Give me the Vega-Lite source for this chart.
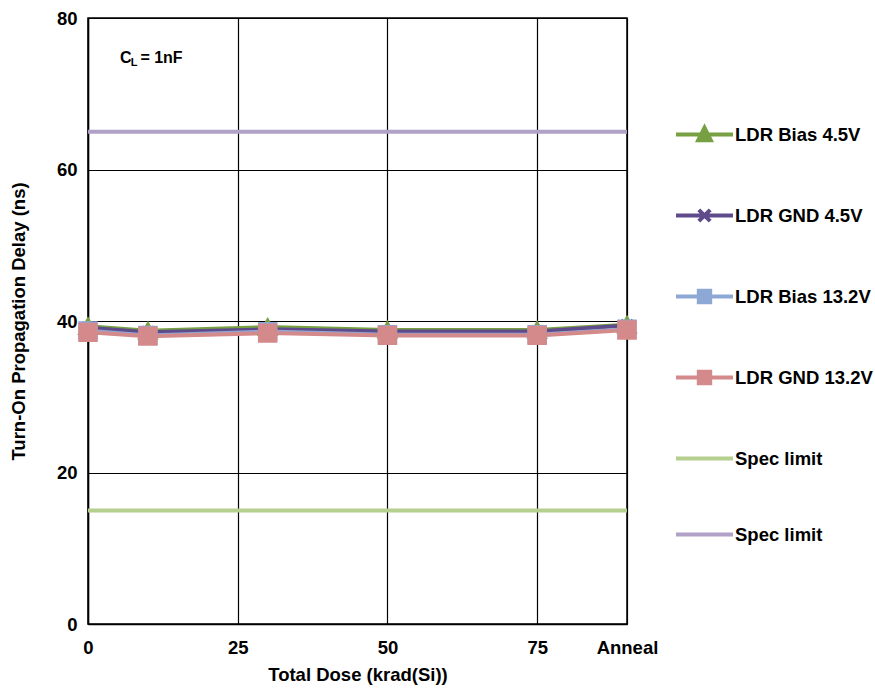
{
  "$schema": "https://vega.github.io/schema/vega-lite/v6.json",
  "width": 539,
  "height": 606,
  "autosize": {"type": "none"},
  "padding": {"left": 88, "top": 18, "right": 248, "bottom": 64},
  "background": "white",
  "config": {
    "font": "Liberation Sans",
    "view": {"stroke": "black", "strokeWidth": 1.5},
    "axis": {
      "labelFont": "Liberation Sans",
      "labelFontWeight": "bold",
      "labelFontSize": 18.5,
      "labelColor": "black",
      "titleFont": "Liberation Sans",
      "titleFontWeight": "bold",
      "titleFontSize": 18.5,
      "titleColor": "black",
      "grid": true,
      "gridColor": "black",
      "gridWidth": 1.2,
      "gridOpacity": 1,
      "domainColor": "black",
      "domainWidth": 1.5,
      "ticks": false
    }
  },
  "datasets": {
    "series": [
      {"series": "LDR Bias 4.5V", "dose": 0, "delay": 39.3},
      {"series": "LDR Bias 4.5V", "dose": 10, "delay": 38.7},
      {"series": "LDR Bias 4.5V", "dose": 30, "delay": 39.2},
      {"series": "LDR Bias 4.5V", "dose": 50, "delay": 38.8},
      {"series": "LDR Bias 4.5V", "dose": 75, "delay": 38.8},
      {"series": "LDR Bias 4.5V", "dose": 90, "delay": 39.5},
      {"series": "LDR GND 4.5V", "dose": 0, "delay": 39.1},
      {"series": "LDR GND 4.5V", "dose": 10, "delay": 38.5},
      {"series": "LDR GND 4.5V", "dose": 30, "delay": 38.9},
      {"series": "LDR GND 4.5V", "dose": 50, "delay": 38.6},
      {"series": "LDR GND 4.5V", "dose": 75, "delay": 38.6},
      {"series": "LDR GND 4.5V", "dose": 90, "delay": 39.4},
      {"series": "LDR Bias 13.2V", "dose": 0, "delay": 38.7},
      {"series": "LDR Bias 13.2V", "dose": 10, "delay": 38.1},
      {"series": "LDR Bias 13.2V", "dose": 30, "delay": 38.6},
      {"series": "LDR Bias 13.2V", "dose": 50, "delay": 38.2},
      {"series": "LDR Bias 13.2V", "dose": 75, "delay": 38.2},
      {"series": "LDR Bias 13.2V", "dose": 90, "delay": 38.9},
      {"series": "LDR GND 13.2V", "dose": 0, "delay": 38.5},
      {"series": "LDR GND 13.2V", "dose": 10, "delay": 38.0},
      {"series": "LDR GND 13.2V", "dose": 30, "delay": 38.4},
      {"series": "LDR GND 13.2V", "dose": 50, "delay": 38.1},
      {"series": "LDR GND 13.2V", "dose": 75, "delay": 38.1},
      {"series": "LDR GND 13.2V", "dose": 90, "delay": 38.8}
    ],
    "limits": [
      {"series": "Spec limit min", "delay": 15},
      {"series": "Spec limit max", "delay": 65}
    ],
    "note": [
      {"part": "C", "dose": 5.35, "delay": 74.7},
      {"part": "= 1nF", "dose": 8.75, "delay": 74.7}
    ],
    "sub": [
      {"part": "L", "dose": 7.15, "delay": 74.0}
    ]
  },
  "layer": [
    {
      "data": {"name": "limits"},
      "mark": {"type": "rule", "strokeWidth": 4},
      "encoding": {
        "y": {"field": "delay", "type": "quantitative", "scale": {"domain": [0, 80], "nice": false},
              "axis": {"values": [0, 20, 40, 60, 80], "title": "Turn-On Propagation Delay (ns)", "labelPadding": 11, "titlePadding": 28}},
        "color": {"field": "series", "type": "nominal",
          "scale": {
            "domain": ["LDR Bias 4.5V", "LDR GND 4.5V", "LDR Bias 13.2V", "LDR GND 13.2V", "Spec limit min", "Spec limit max"],
            "range": ["#77A043", "#5F4B8B", "#8EA8D6", "#D4898A", "#B5CF8E", "#B1A0C7"]
          },
          "legend": {
            "orient": "none",
            "legendX": 586,
            "legendY": 86,
            "title": null,
            "symbolSize": 3249,
            "symbolStrokeWidth": 4,
            "symbolOpacity": 1,
            "labelFont": "Liberation Sans",
            "labelFontWeight": "bold",
            "labelFontSize": 18.5,
            "labelColor": "black",
            "labelOffset": 0,
            "rowPadding": 36,
            "labelExpr": "indexof(datum.label, 'Spec limit') == 0 ? 'Spec limit' : datum.label",
            "encode": {
              "symbols": {
                "update": {
                  "shape": {"signal": "datum.value == 'LDR Bias 4.5V' ? 'M-1,0H1M-0.22,0.2L0,-0.24L0.22,0.2Z' : datum.value == 'LDR GND 4.5V' ? 'M-1,0H1M-0.2,-0.2L0.2,0.2M-0.2,0.2L0.2,-0.2' : (datum.value == 'LDR Bias 13.2V' || datum.value == 'LDR GND 13.2V') ? 'M-1,0H1M-0.2,-0.2H0.2V0.2H-0.2Z' : 'M-1,0H1'"},
                  "fill": {"scale": "color", "field": "value"},
                  "stroke": {"scale": "color", "field": "value"},
                  "strokeWidth": {"value": 4},
                  "opacity": {"value": 1},
                  "fillOpacity": {"value": 1},
                  "strokeOpacity": {"value": 1}
                }
              }
            }
          }
        }
      }
    },
    {
      "data": {"name": "series"},
      "mark": {"type": "line", "strokeWidth": 4},
      "encoding": {
        "x": {"field": "dose", "type": "quantitative", "scale": {"domain": [0, 90], "nice": false},
              "axis": {"values": [0, 25, 50, 75, 90], "title": "Total Dose (krad(Si))", "labelPadding": 14, "titlePadding": 9,
                       "labelFlush": false,
                       "labelExpr": "datum.value == 90 ? 'Anneal' : datum.label",
                       "encode": {"labels": {"update": {"x": {"signal": "scale('x', datum.value) - (datum.value == 90 ? 9 : 0)"}}}}}},
        "y": {"field": "delay", "type": "quantitative"},
        "color": {"field": "series", "type": "nominal"}
      }
    },
    {
      "data": {"name": "series"},
      "mark": {"type": "point", "filled": true, "size": 270, "strokeWidth": 3, "opacity": 1},
      "encoding": {
        "x": {"field": "dose", "type": "quantitative"},
        "y": {"field": "delay", "type": "quantitative"},
        "color": {"field": "series", "type": "nominal"},
        "stroke": {"field": "series", "type": "nominal", "legend": null,
          "scale": {
            "domain": ["LDR Bias 4.5V", "LDR GND 4.5V", "LDR Bias 13.2V", "LDR GND 13.2V"],
            "range": ["#77A043", "#5F4B8B", "#8EA8D6", "#D4898A"]
          }},
        "shape": {"field": "series", "type": "nominal", "legend": null,
          "scale": {
            "domain": ["LDR Bias 4.5V", "LDR GND 4.5V", "LDR Bias 13.2V", "LDR GND 13.2V"],
            "range": ["triangle-up", "M-0.7,-0.7L0.7,0.7M-0.7,0.7L0.7,-0.7", "square", "square"]
          }}
      }
    },
    {
      "data": {"name": "note"},
      "mark": {"type": "text", "font": "Liberation Sans", "fontWeight": "bold", "fontSize": 16, "align": "left", "baseline": "middle", "color": "black"},
      "encoding": {
        "x": {"field": "dose", "type": "quantitative"},
        "y": {"field": "delay", "type": "quantitative"},
        "text": {"field": "part"}
      }
    },
    {
      "data": {"name": "sub"},
      "mark": {"type": "text", "font": "Liberation Sans", "fontWeight": "bold", "fontSize": 11, "align": "left", "baseline": "middle", "color": "black"},
      "encoding": {
        "x": {"field": "dose", "type": "quantitative"},
        "y": {"field": "delay", "type": "quantitative"},
        "text": {"field": "part"}
      }
    }
  ]
}
